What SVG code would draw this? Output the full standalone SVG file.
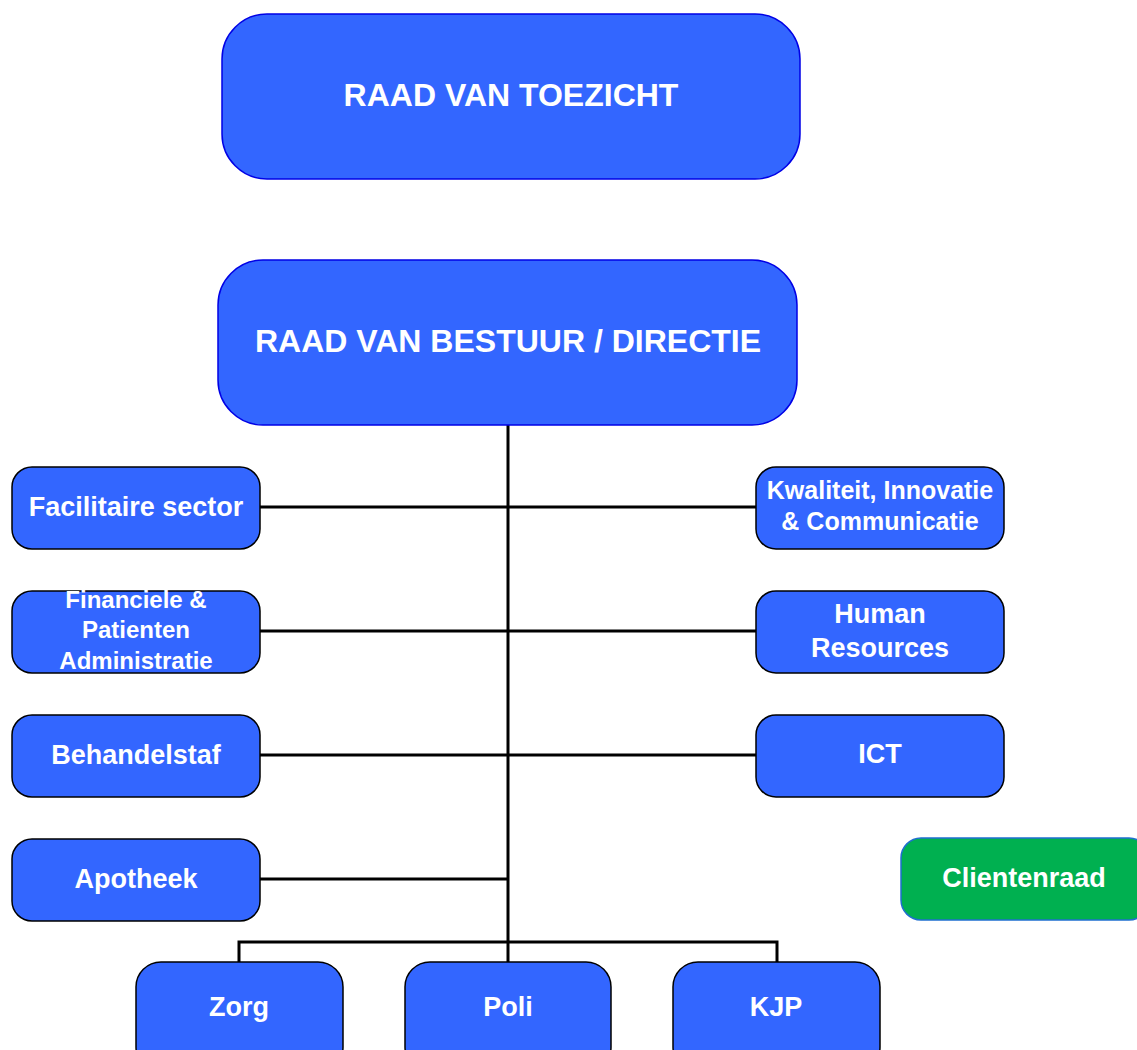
<svg xmlns="http://www.w3.org/2000/svg" width="1137" height="1050" viewBox="0 0 1137 1050">
<style>
.top{fill:#3366FF;stroke:#0000E6;stroke-width:1.5}
.box{fill:#3366FF;stroke:#000;stroke-width:1.5}
.green{fill:#00B050;stroke:#1F6FCF;stroke-width:1.5}
text{font-family:"Liberation Sans",Arial,sans-serif;font-weight:bold;fill:#fff;text-anchor:middle}
.big{font-size:32px}
.mid{font-size:27px}
.sm{font-size:24px}
.kw{font-size:25px}
.conn{stroke:#000;stroke-width:3;fill:none}
</style>
<rect width="1137" height="1050" fill="#fff"/>
<g id="connectors">
<line class="conn" x1="508" y1="425" x2="508" y2="962"/>
<line class="conn" x1="260" y1="507" x2="756" y2="507"/>
<line class="conn" x1="260" y1="631" x2="756" y2="631"/>
<line class="conn" x1="260" y1="755" x2="756" y2="755"/>
<line class="conn" x1="260" y1="879" x2="508" y2="879"/>
<polyline class="conn" points="239,962 239,942 777,942 777,962"/>
</g>
<g id="raad-van-toezicht">
<rect class="top" x="222" y="14" width="578" height="165" rx="45"/>
<text class="big" x="511" y="106">RAAD VAN TOEZICHT</text>
</g>
<g id="raad-van-bestuur">
<rect class="top" x="218" y="260" width="579" height="165" rx="45"/>
<text class="big" x="508" y="352">RAAD VAN BESTUUR / DIRECTIE</text>
</g>
<g id="facilitaire">
<rect class="box" x="12" y="467" width="248" height="82" rx="20"/>
<text class="mid" x="136" y="516">Facilitaire sector</text>
</g>
<g id="financiele">
<rect class="box" x="12" y="591" width="248" height="82" rx="20"/>
<text class="sm" x="136" y="608">Financiele &amp;</text>
<text class="sm" x="136" y="638">Patienten</text>
<text class="sm" x="136" y="669">Administratie</text>
</g>
<g id="behandelstaf">
<rect class="box" x="12" y="715" width="248" height="82" rx="20"/>
<text class="mid" x="136" y="764">Behandelstaf</text>
</g>
<g id="apotheek">
<rect class="box" x="12" y="839" width="248" height="82" rx="20"/>
<text class="mid" x="136" y="888">Apotheek</text>
</g>
<g id="kwaliteit">
<rect class="box" x="756" y="467" width="248" height="82" rx="20"/>
<text class="kw" x="880" y="499">Kwaliteit, Innovatie</text>
<text class="kw" x="880" y="530">&amp; Communicatie</text>
</g>
<g id="human-resources">
<rect class="box" x="756" y="591" width="248" height="82" rx="20"/>
<text class="mid" x="880" y="623">Human</text>
<text class="mid" x="880" y="657">Resources</text>
</g>
<g id="ict">
<rect class="box" x="756" y="715" width="248" height="82" rx="20"/>
<text class="mid" x="880" y="763">ICT</text>
</g>
<g id="clientenraad">
<rect class="green" x="901" y="838" width="248" height="82" rx="20"/>
<text class="mid" x="1024" y="887">Clientenraad</text>
</g>
<g id="zorg">
<rect class="box" x="136" y="962" width="207" height="110" rx="25"/>
<text class="mid" x="239" y="1016">Zorg</text>
</g>
<g id="poli">
<rect class="box" x="405" y="962" width="206" height="110" rx="25"/>
<text class="mid" x="508" y="1016">Poli</text>
</g>
<g id="kjp">
<rect class="box" x="673" y="962" width="207" height="110" rx="25"/>
<text class="mid" x="776" y="1016">KJP</text>
</g>
</svg>
